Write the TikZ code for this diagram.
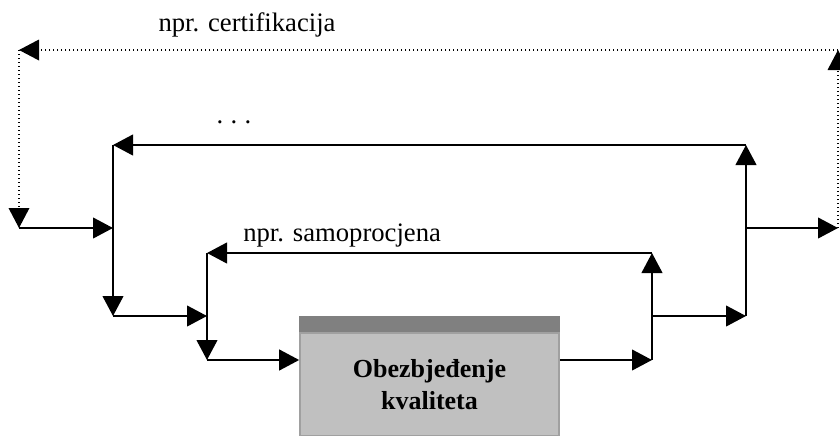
\documentclass[tikz,border=0pt]{standalone}
\usepackage{fontspec}
\setmainfont{Liberation Serif}
\usetikzlibrary{arrows.meta,positioning}
\definecolor{BoxGray}{HTML}{C0C0C0}
\definecolor{BandGray}{HTML}{808080}
\definecolor{EdgeGray}{HTML}{A0A0A0}

\begin{document}
\begin{tikzpicture}[
        x=0.75pt, y=-0.75pt,
        qbox/.style={rectangle, fill=BoxGray, draw=EdgeGray, line width=1.2pt, minimum width=194.25pt, minimum height=77.25pt, inner sep=0pt, align=center, font=\fontsize{19.5}{24}\selectfont\bfseries},
        arrow/.style={-{Triangle[length=15pt,width=15.5pt]}, line width=1.6pt},
        dotarrow/.style={-{Triangle[length=15pt,width=15.5pt]}, dotted, line width=1pt},
        lbl/.style={font=\fontsize{20}{24}\selectfont, inner sep=0pt}
      ]
        \useasboundingbox (0,0) rectangle (840,436);

        % Main box
        \node[qbox] (qa) at (429.5,384.5) {Obezbjeđenje\\kvaliteta};
        \fill[BandGray] (qa.north west) rectangle ([yshift=12pt]qa.north east);

        % Junction points
        \coordinate (tl) at (19,50);
        \coordinate (tr) at (838,50);
        \coordinate (l1) at (19,228);
        \coordinate (l2) at (113,228);
        \coordinate (l2top) at (113,145);
        \coordinate (l3) at (113,316);
        \coordinate (l4) at (207,316);
        \coordinate (l4top) at (207,253);
        \coordinate (l5) at (207,360);
        \coordinate (r5) at (652,360);
        \coordinate (r5top) at (652,253);
        \coordinate (r4) at (652,316);
        \coordinate (r3) at (746,316);
        \coordinate (r3top) at (746,145);
        \coordinate (r2) at (746,228);
        \coordinate (r1) at (838,228);

        % Outer dotted loop
        \draw[dotarrow] (r1) -- (tr);
        \draw[dotarrow] (tr) -- (tl);
        \draw[dotarrow] (tl) -- (l1);

        % Middle loop
        \draw[arrow] (l1) -- (l2);
        \draw[arrow] (l2top) -- (l3);
        \draw[arrow] (r3) -- (r3top);
        \draw[arrow] (r3top) -- (l2top);
        \draw[arrow] (r2) -- (r1);

        % Inner loop
        \draw[arrow] (l3) -- (l4);
        \draw[arrow] (l4top) -- (l5);
        \draw[arrow] (l5) -- (qa.west |- l5);
        \draw[arrow] (qa.east |- r5) -- (r5);
        \draw[arrow] (r5) -- (r5top);
        \draw[arrow] (r5top) -- (l4top);
        \draw[arrow] (r4) -- (r3);

        % Labels
        \node[lbl, anchor=base] (certlbl) at (247,31) {npr. certifikacija};
        \node[lbl, anchor=base] (dotslbl) at (234,123) {.\hspace{5.5pt}.\hspace{5.5pt}.};
        \node[lbl, anchor=base west] (samolbl) at (243,241) {npr. samoprocjena};

      \end{tikzpicture}
\end{document}
